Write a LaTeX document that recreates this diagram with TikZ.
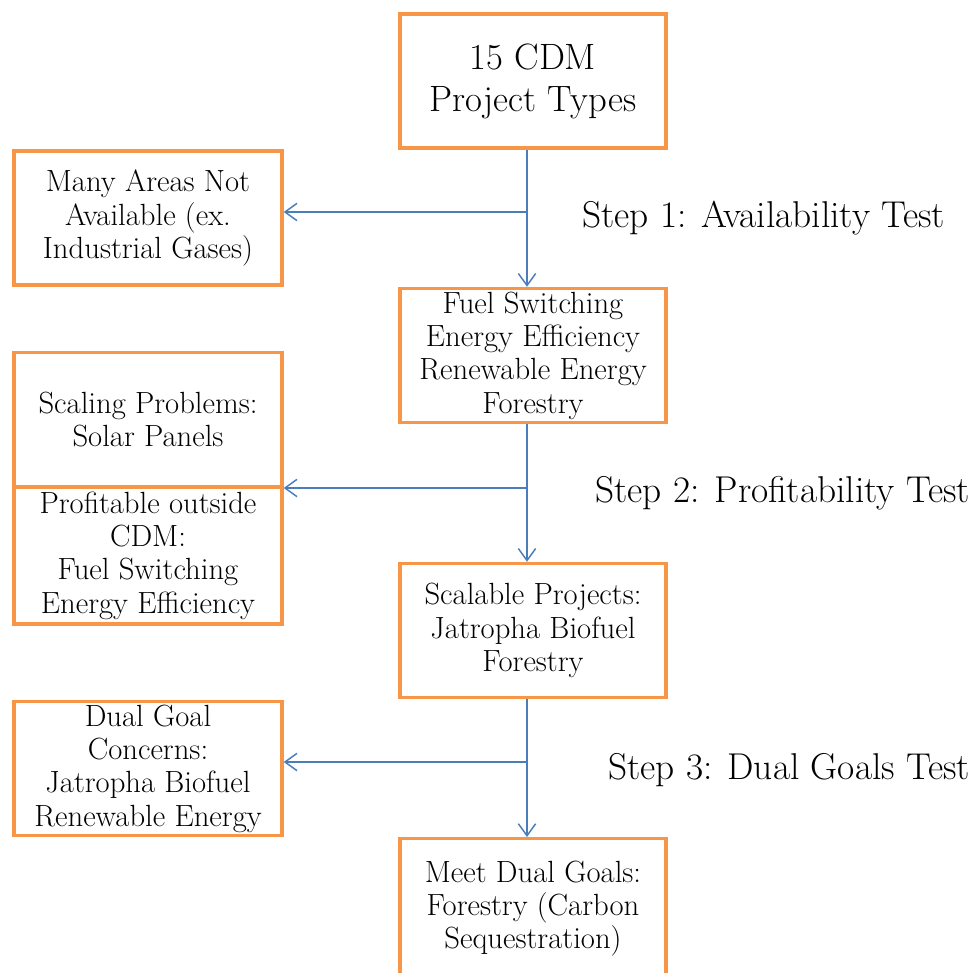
\documentclass[tikz,border=0pt]{standalone}
\usepackage{fontspec}
\usetikzlibrary{arrows.meta}
\definecolor{boxorange}{HTML}{F79646}
\definecolor{linkblue}{HTML}{4A7EBB}
\begin{document}
\begin{tikzpicture}[x=0.75pt,y=-0.75pt,
  box/.style={draw=boxorange, line width=2.6pt, fill=white, align=center,
    inner sep=0pt, minimum height=100.5pt, text=black,
    font=\fontsize{23}{25}\selectfont\addfontfeatures{FakeBold=0.6}},
  rbox/.style={box, minimum width=199.5pt},
  lbox/.style={box, minimum width=201pt},
  steplabel/.style={anchor=base west, inner sep=0pt,
    font=\fontsize{28}{32}\selectfont\addfontfeatures{FakeBold=0.5}},
  link/.style={draw=linkblue, line width=1.1pt,
    -{Straight Barb[length=9pt,width=13pt,line width=1.1pt]}}]
  \useasboundingbox (0,0) rectangle (977,973);

  % main column
  \node[rbox, font=\fontsize{27.5}{31.5}\selectfont\addfontfeatures{FakeBold=0.5}] (b1) at (533,81) {15 CDM\\Project Types};
  \node[rbox] (b2) at (533,355.5) {Fuel Switching\\Energy Efficiency\\Renewable Energy\\Forestry};
  \node[rbox] (b3) at (533,630.5) {Scalable Projects:\\Jatropha Biofuel\\Forestry};
  \node[rbox, minimum height=105pt] (b4) at (533,908.7) {Meet Dual Goals:\\Forestry (Carbon\\Sequestration)};

  % rejected branches
  \node[lbox] (l1) at (148,218) {Many Areas Not\\Available (ex.\\Industrial Gases)};
  \node[lbox] (l2) at (148,419.5) {Scaling Problems:\\Solar Panels};
  \node[lbox, minimum height=102.5pt] (l3) at (148,555.5) {Profitable outside\\CDM:\\Fuel Switching\\Energy Efficiency};
  \node[lbox] (l4) at (148,768.5) {Dual Goal\\Concerns:\\Jatropha Biofuel\\Renewable Energy};

  % junctions on the main line
  \coordinate (j1) at (527,212);
  \coordinate (j2) at (527,488);
  \coordinate (j3) at (527,762);

  \draw[link] (b1.south -| j1) -- (b2.north -| j1);
  \draw[link] (j1) -- (l1.east |- j1);
  \draw[link] (b2.south -| j2) -- (b3.north -| j2);
  \draw[link] (j2) -- (l2.east |- j2);
  \draw[link] (b3.south -| j3) -- (b4.north -| j3);
  \draw[link] (j3) -- (l4.east |- j3);

  % test labels
  \node[steplabel] (s1) at (582,228) {Step 1: Availability Test};
  \node[steplabel] (s2) at (595,502) {Step 2: Profitability Test};
  \node[steplabel] (s3) at (608,779) {Step 3: Dual Goals Test};
\end{tikzpicture}
\end{document}
